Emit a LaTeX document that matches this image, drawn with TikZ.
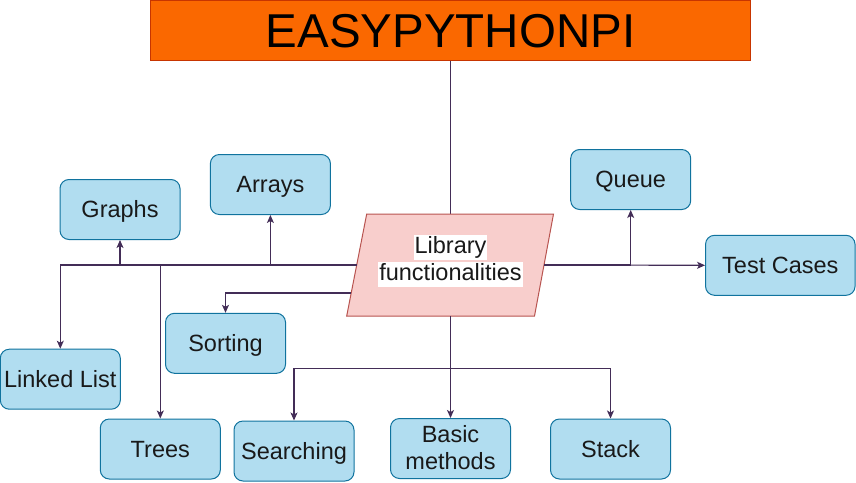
\documentclass[tikz,border=0pt]{standalone}
\usepackage{fontspec}
\setmainfont{Liberation Sans}
\usetikzlibrary{arrows.meta}
\definecolor{boxfill}{HTML}{B1DDF0}
\definecolor{boxline}{HTML}{10739E}
\definecolor{titlefill}{HTML}{FA6800}
\definecolor{titleline}{HTML}{C73500}
\definecolor{parfill}{HTML}{F8CECC}
\definecolor{parline}{HTML}{B85450}
\definecolor{conn}{HTML}{432D57}
\tikzset{
  box/.style={rectangle, rounded corners=9pt, fill=boxfill, draw=boxline, line width=1pt,
    minimum width=120pt, minimum height=60pt, inner sep=0pt, align=center,
    text height=20pt, text depth=4pt,
    font=\fontsize{23.5}{27}\selectfont, text=black!90},
  link/.style={draw=conn, line width=1.1pt},
  arr/.style={link, -{Stealth[length=8pt,width=7pt,inset=2pt]}},
  libtext/.style={fill=white, inner sep=1pt, anchor=base, text height=18pt, text depth=5pt,
    font=\fontsize{23.5}{27}\selectfont, text=black!90}
}
\begin{document}
\begin{tikzpicture}[x=1pt,y=-1pt]
\useasboundingbox (0,0) rectangle (856,482);
% title
\node[rectangle, fill=titlefill, draw=titleline, line width=1pt, minimum width=600pt,
  minimum height=60pt, inner sep=0pt, text height=34pt, text depth=0pt,
  font=\fontsize{47.5}{50}\selectfont, text=black]
  (title) at (450.5,30) {EASYPYTHONPI};
% parallelogram
\coordinate (pTL) at (366.7,214);
\coordinate (pTR) at (553.5,214);
\coordinate (pBR) at (534.5,316);
\coordinate (pBL) at (346.7,316);
\coordinate (libT) at (450.5,214);
\coordinate (libB) at (450.5,316);
\coordinate (libL1) at (356.7,265);
\coordinate (libL2) at (351.2,293);
\coordinate (libR) at (544,265);
\draw (title.south) [link] -- (libT);
\filldraw[fill=parfill, draw=parline, line width=1pt] (pTL) -- (pTR) -- (pBR) -- (pBL) -- cycle;
\node[libtext] (lib1) at (450.5,253.5) {Library};
\node[libtext] (lib2) at (450.5,280.5) {functionalities};
% boxes
\node[box] (graphs) at (120,209.5) {Graphs};
\node[box] (arrays) at (270.4,184.5) {Arrays};
\node[box] (queue) at (630.7,179.5) {Queue};
\node[box, minimum width=149.5pt] (tc) at (780.3,265.3) {Test Cases};
\node[box] (sorting) at (225.5,343.3) {Sorting};
\node[box] (ll) at (60.3,379.2) {Linked List};
\node[box] (trees) at (160.3,449) {Trees};
\node[box] (search) at (294,451) {Searching};
\node[box, text height=46pt, text depth=4pt] (basic) at (450.5,448.5) {Basic\\methods};
\node[box] (stack) at (610.5,449) {Stack};
% connectors
\draw[arr] (libL1) -| (ll.north);
\draw[arr] (libL1) -| (graphs.south);
\draw[arr] (libL1) -| (trees.north);
\draw[arr] (libL1) -| (arrays.south);
\draw[arr] (libL2) -| (sorting.north);
\draw[arr] (libR) -- (tc.west);
\draw[arr] (libR) -| (queue.south);
\draw[arr] (libB) -- (basic.north);
\draw[arr] (libB) -- ++(0,52.5) -| (search.north);
\draw[arr] (libB) -- ++(0,52.5) -| (stack.north);
\end{tikzpicture}
\end{document}
